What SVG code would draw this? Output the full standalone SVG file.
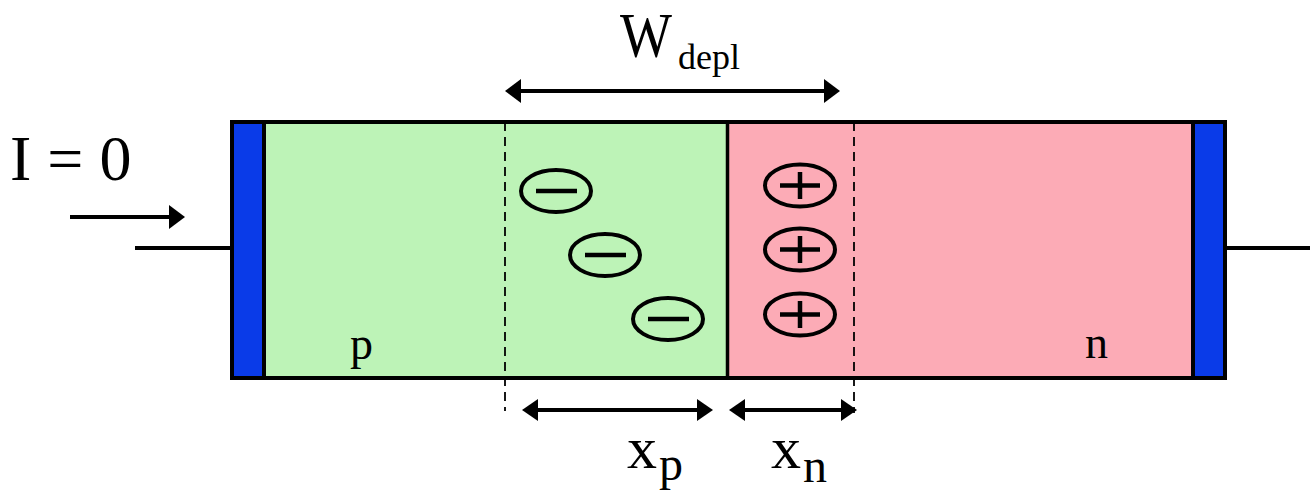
<svg xmlns="http://www.w3.org/2000/svg" width="1310" height="493" viewBox="0 0 1310 493">
<defs>
<style>
.t{font-family:"Liberation Serif","Times New Roman",serif;fill:#000}
.ln{stroke:#000;stroke-width:4;fill:none}
.dash{stroke:#000;stroke-width:1.8;stroke-dasharray:9,6;fill:none}
.ion{fill:none;stroke:#000;stroke-width:4}
.bar{stroke:#000;stroke-width:4.5}
</style>
<marker id="ah" viewBox="0 0 16 24" refX="3" refY="12" markerWidth="16" markerHeight="24" markerUnits="userSpaceOnUse" orient="auto-start-reverse">
<path d="M0,0 L16,12 L0,24 z" fill="#000"/>
</marker>
<marker id="ahs" viewBox="0 0 16 22" refX="3" refY="11" markerWidth="16" markerHeight="22" markerUnits="userSpaceOnUse" orient="auto-start-reverse">
<path d="M0,0 L16,11 L0,22 z" fill="#000"/>
</marker>
</defs>
<rect width="1310" height="493" fill="#fff"/>
<g id="p-region">
<rect x="264" y="122" width="464" height="256" fill="#bdf3b7"/>
</g>
<g id="n-region">
<rect x="728" y="122" width="465" height="256" fill="#fcabb6"/>
</g>
<g id="left-contact">
<rect x="232" y="122" width="32" height="256" fill="#0a3be8"/>
</g>
<g id="right-contact">
<rect x="1193" y="122" width="32" height="256" fill="#0a3be8"/>
</g>
<g id="outline">
<rect x="232" y="122" width="993" height="256" class="ln"/>
<line x1="264" y1="122" x2="264" y2="378" class="ln"/>
<line x1="1193" y1="122" x2="1193" y2="378" class="ln"/>
<line x1="727.5" y1="122" x2="727.5" y2="378" stroke="#000" stroke-width="3.5"/>
</g>
<g id="ions-neg">
<ellipse cx="556" cy="191" rx="35" ry="21" class="ion"/>
<line x1="536" y1="191" x2="577" y2="191" class="bar"/>
<ellipse cx="605" cy="255" rx="35" ry="21" class="ion"/>
<line x1="585" y1="255" x2="626" y2="255" class="bar"/>
<ellipse cx="668" cy="319" rx="35" ry="21" class="ion"/>
<line x1="648" y1="319" x2="689" y2="319" class="bar"/>
</g>
<g id="ions-pos">
<ellipse cx="800" cy="185.5" rx="35" ry="21" class="ion"/>
<line x1="780" y1="185.5" x2="820" y2="185.5" class="bar"/>
<line x1="800" y1="172" x2="800" y2="199" class="bar"/>
<ellipse cx="800" cy="249.5" rx="35" ry="21" class="ion"/>
<line x1="780" y1="249.5" x2="820" y2="249.5" class="bar"/>
<line x1="800" y1="236" x2="800" y2="263" class="bar"/>
<ellipse cx="800" cy="314.5" rx="35" ry="21" class="ion"/>
<line x1="780" y1="314.5" x2="820" y2="314.5" class="bar"/>
<line x1="800" y1="301" x2="800" y2="328" class="bar"/>
</g>
<g id="labels">
<text x="350" y="359" class="t" font-size="46">p</text>
<text x="1085" y="358" class="t" font-size="46">n</text>
<text x="10" y="180" class="t" font-size="64">I = 0</text>
<text x="620" y="57" class="t" font-size="64" textLength="52" lengthAdjust="spacingAndGlyphs">W</text>
<text x="678" y="69" class="t" font-size="36">depl</text>
<text x="627" y="468" class="t" font-size="60">x</text>
<text x="659" y="480" class="t" font-size="48">p</text>
<text x="771" y="468" class="t" font-size="60">x</text>
<text x="803" y="482" class="t" font-size="48">n</text>
</g>
<g id="connectors">
<line x1="135" y1="248" x2="232" y2="248" class="ln"/>
<line x1="1225" y1="248" x2="1310" y2="248" class="ln"/>
<line x1="70" y1="217" x2="172" y2="217" class="ln" marker-end="url(#ah)"/>
<line x1="518" y1="91" x2="827" y2="91" class="ln" marker-start="url(#ah)" marker-end="url(#ah)"/>
<line x1="535" y1="410" x2="700" y2="410" class="ln" marker-start="url(#ahs)" marker-end="url(#ahs)"/>
<line x1="742" y1="410" x2="844" y2="410" class="ln" marker-start="url(#ahs)" marker-end="url(#ahs)"/>
<line x1="505" y1="122" x2="505" y2="411" class="dash"/>
<line x1="854" y1="122" x2="854" y2="413" class="dash"/>
</g>
</svg>
